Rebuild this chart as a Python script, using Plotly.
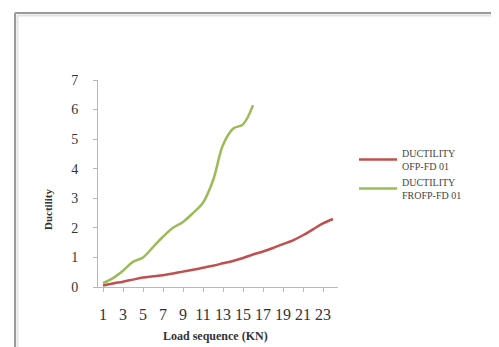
import plotly.graph_objects as go

categories = list(range(1, 25))
ofp_values = [0.05, 0.12, 0.18, 0.25, 0.32, 0.36, 0.40, 0.46, 0.52, 0.58, 0.65, 0.72,
              0.80, 0.88, 0.98, 1.10, 1.20, 1.32, 1.45, 1.58, 1.75, 1.95, 2.15, 2.30]
frofp_values = [0.13, 0.30, 0.55, 0.85, 1.00, 1.35, 1.70, 2.00, 2.20, 2.50, 2.85, 3.60,
                4.80, 5.35, 5.50, 6.15]
series_names = ["DUCTILITY<br>OFP-FD 01", "DUCTILITY<br>FROFP-FD 01"]
y_ticks = list(range(0, 8))
x_tick_labels = [str(c) for c in categories[::2]]

OFF = 8  # page body margin
W, H = 499 - OFF, 347 - OFF
# plot area in screen pixels
L, R, T, B = 98, 338, 80, 287

def px(x):
    return (x - L) / (R - L)

def py(y):
    return (B - y) / (B - T)

serif = "Liberation Serif"

fig = go.Figure()
fig.add_trace(go.Scatter(x=categories[:len(ofp_values)], y=ofp_values, mode="lines",
                         line=dict(color="#C0504D", width=2.5, shape="spline"),
                         name=series_names[0]))
fig.add_trace(go.Scatter(x=categories[:len(frofp_values)], y=frofp_values, mode="lines",
                         line=dict(color="#9BBB59", width=2.5, shape="spline"),
                         name=series_names[1]))

fig.update_layout(
    width=W, height=H,
    margin=dict(l=L - OFF, r=W - (R - OFF), t=T - OFF, b=H - (B - OFF), pad=0),
    paper_bgcolor="white", plot_bgcolor="white",
    font=dict(family=serif, color="#333333"),
    showlegend=True,
    legend=dict(x=px(354), y=py(140), xanchor="left", yanchor="top",
                font=dict(family=serif, size=10, color="#444444"),
                itemwidth=38,
                bgcolor="rgba(0,0,0,0)", tracegroupgap=5),
    xaxis=dict(range=[0.5, 24.5], tickmode="array", tickvals=categories[::2],
               ticktext=x_tick_labels, showgrid=False, zeroline=False,
               showline=True, linecolor="#B8B8B8", linewidth=1,
               ticks="outside", ticklen=4, tickcolor="#B8B8B8",
               ticklabelstandoff=9,
               tickfont=dict(family=serif, size=16, color="#333333")),
    yaxis=dict(range=[0, 7], tickvals=y_ticks, showgrid=False, zeroline=False,
               showline=True, linecolor="#B8B8B8", linewidth=1,
               ticks="outside", ticklen=4, tickcolor="#B8B8B8",
               ticklabelstandoff=12,
               tickfont=dict(family=serif, size=14, color="#333333")),
)

fig.add_annotation(text="<b>Ductility</b>", xref="paper", yref="paper",
                   x=px(48), y=py(210), xanchor="center", yanchor="middle",
                   textangle=-90, showarrow=False,
                   font=dict(family=serif, size=11, color="#333333"))
fig.add_annotation(text="<b>Load sequence (KN)</b>", xref="paper", yref="paper",
                   x=px(215), y=py(336), xanchor="center", yanchor="middle",
                   showarrow=False,
                   font=dict(family=serif, size=12, color="#333333"))

# chart frame (top and left border)
fig.add_shape(type="line", xref="paper", yref="paper", x0=px(15), x1=px(W + 20),
              y0=py(13), y1=py(13), line=dict(color="#9A9A9A", width=2))
fig.add_shape(type="line", xref="paper", yref="paper", x0=px(15), x1=px(15),
              y0=py(13), y1=py(H + 20), line=dict(color="#9A9A9A", width=2))
fig.add_shape(type="line", xref="paper", yref="paper", x0=px(17), x1=px(W + 20),
              y0=py(15.5), y1=py(15.5), line=dict(color="#E2E2E2", width=2))
fig.add_shape(type="line", xref="paper", yref="paper", x0=px(17.5), x1=px(17.5),
              y0=py(15), y1=py(H + 20), line=dict(color="#E2E2E2", width=2))

fig.write_html("out.html")
